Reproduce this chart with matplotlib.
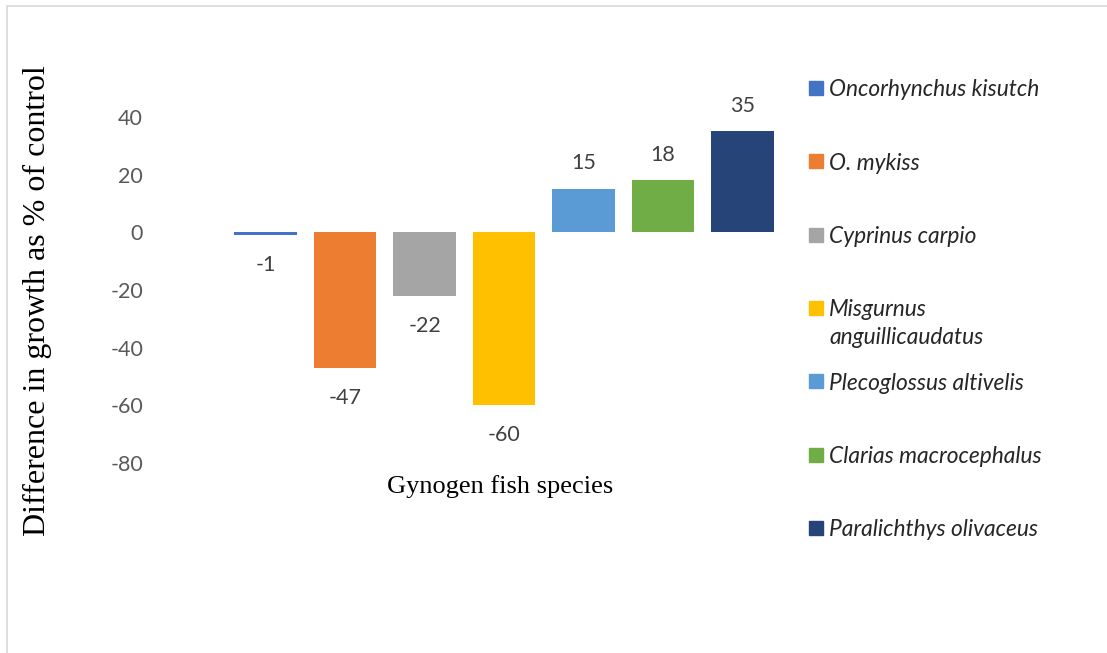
import matplotlib.pyplot as plt
from matplotlib.patches import Rectangle

species = ['Oncorhynchus kisutch', 'O. mykiss', 'Cyprinus carpio',
           'Misgurnus\nanguillicaudatus', 'Plecoglossus altivelis',
           'Clarias macrocephalus', 'Paralichthys olivaceus']
growth_diff = [-1, -47, -22, -60, 15, 18, 35]
colors = ['#4472C4', '#ED7D31', '#A5A5A5', '#FFC000', '#5B9BD5', '#70AD47', '#264478']
yticks = [40, 20, 0, -20, -40, -60, -80]

W, H = 1107, 653
fig = plt.figure(figsize=(W / 100, H / 100), dpi=100)

# plot area in pixels (left, top, right, bottom)
L, T, R, B = 150, 117, 790, 463
ax = fig.add_axes([L / W, 1 - B / H, (R - L) / W, (B - T) / H])

x = list(range(len(growth_diff)))
bars = ax.bar(x, growth_diff, width=0.79, color=colors)

ax.set_xlim(-1.453, -1.453 + (R - L) / 79.5)
ax.set_ylim(-80, 40)
ax.set_yticks(yticks)
ax.set_yticklabels([str(t) for t in yticks], fontsize=15.5, color='#595959', family='Lato')
ax.tick_params(axis='y', length=0, pad=5)
ax.set_xticks([])
for s in ax.spines.values():
    s.set_visible(False)

for b, v in zip(bars, growth_diff):
    off = 20 if v > 0 else -20
    ax.annotate(str(v), (b.get_x() + b.get_width() / 2, v), xytext=(0, off),
                textcoords='offset points', ha='center', va='center_baseline',
                fontsize=15.5, color='#404040', family='Lato')

fig.text(500 / W, 1 - 487 / H, 'Gynogen fish species', ha='center', va='center',
         fontsize=19, family='Liberation Serif', color='black')
fig.text(37 / W, 1 - 301 / H, 'Difference in growth as % of control', ha='center',
         va='center', rotation=90, fontsize=23, family='Liberation Serif', color='black')

# legend drawn by hand so multi-line entries align like the original
for i, (name, c) in enumerate(zip(species, colors)):
    y0 = 88 + 73.3 * i
    fig.patches.append(Rectangle((809 / W, 1 - (y0 + 7) / H), 14 / W, 14 / H,
                                 transform=fig.transFigure, color=c))
    for j, line in enumerate(name.split('\n')):
        fig.text(829 / W, 1 - (y0 + 28 * j) / H, line, ha='left', va='center_baseline',
                 fontsize=16.4, style='italic', family='Lato', color='#262626')

# chart frame
fig.patches.append(Rectangle((7 / W, -0.1), 1.2, 1 - 6 / H + 0.1, transform=fig.transFigure,
                             fill=False, edgecolor='#d9d9d9', linewidth=1.2))

fig.savefig('out.png', dpi=100)
